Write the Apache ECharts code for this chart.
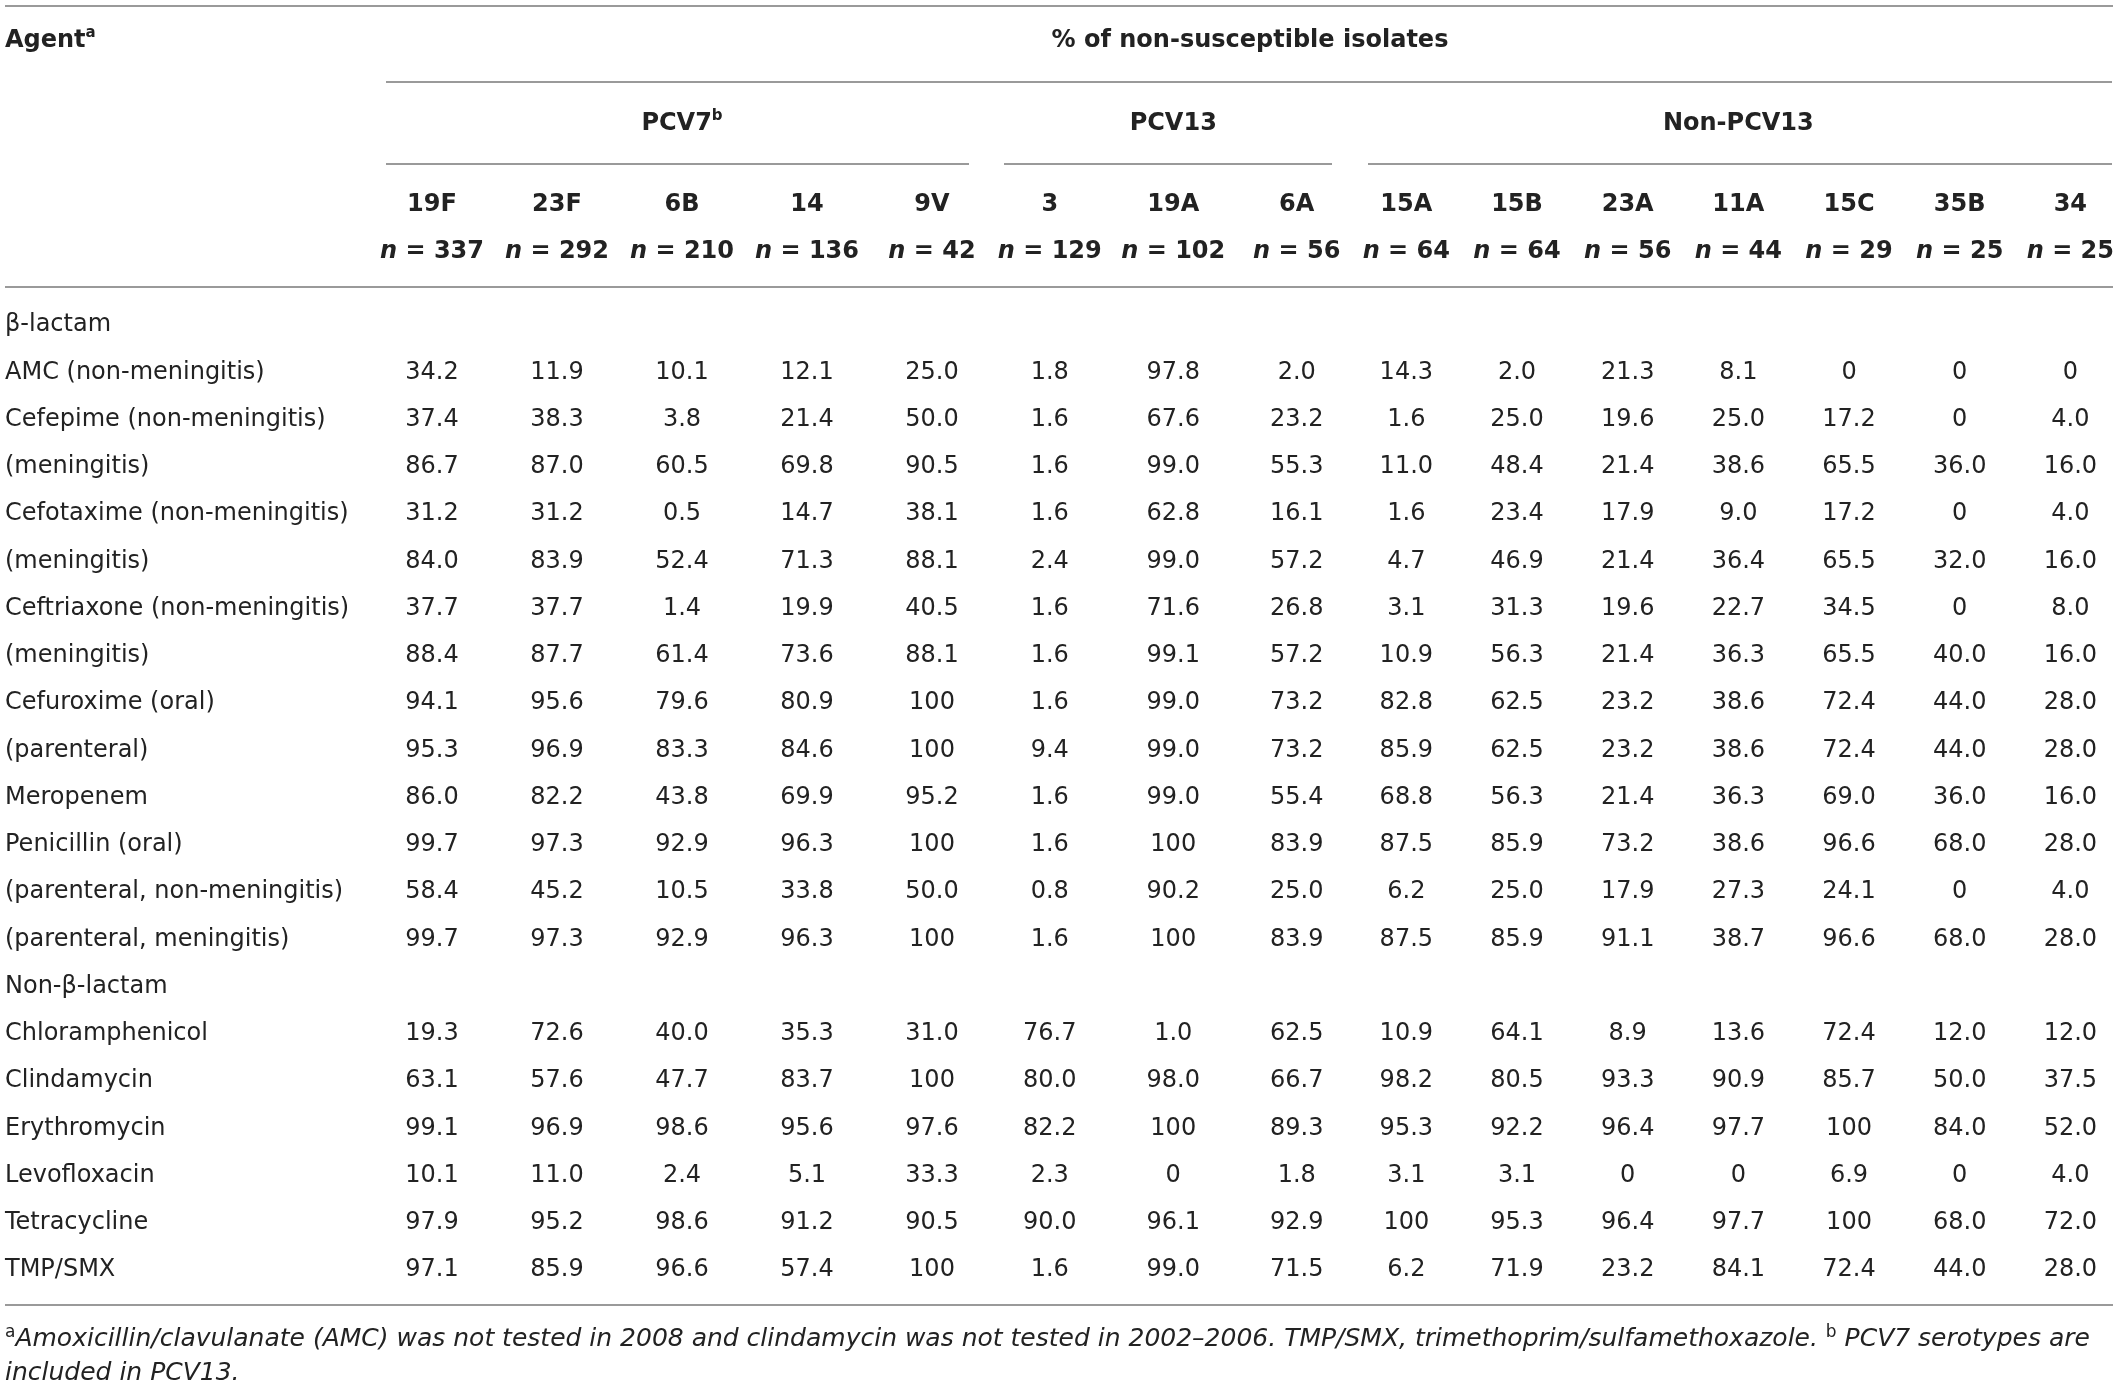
<!DOCTYPE html>
<html><head><meta charset="utf-8">
<script src="https://cdn.jsdelivr.net/npm/echarts@6/dist/echarts.min.js"></script>
<style>html,body{margin:0;padding:0;background:#fff}#c{width:2118px;height:1391px}</style>
</head><body><div id="c"></div>
<script>
// ---------- data ----------
const groups = ['PCV7', 'PCV13', 'Non-PCV13'];
const serotypesPCV7 = ['19F', '23F', '6B', '14', '9V'];
const serotypesPCV13 = ['3', '19A', '6A'];
const serotypesNon = ['15A', '15B', '23A', '11A', '15C', '35B', '34'];
const countsPCV7 = [337, 292, 210, 136, 42];
const countsPCV13 = [129, 102, 56];
const countsNon = [64, 64, 56, 44, 29, 25, 25];
const rowLabels = ['β-lactam', 'AMC (non-meningitis)', 'Cefepime (non-meningitis)', '(meningitis)',
  'Cefotaxime (non-meningitis)', '(meningitis)', 'Ceftriaxone (non-meningitis)', '(meningitis)',
  'Cefuroxime (oral)', '(parenteral)', 'Meropenem', 'Penicillin (oral)', '(parenteral, non-meningitis)',
  '(parenteral, meningitis)', 'Non-β-lactam', 'Chloramphenicol', 'Clindamycin', 'Erythromycin',
  'Levofloxacin', 'Tetracycline', 'TMP/SMX'];
const sectionRows = [0, 14];

const s19F = [34.2, 37.4, 86.7, 31.2, 84.0, 37.7, 88.4, 94.1, 95.3, 86.0, 99.7, 58.4, 99.7, 19.3, 63.1, 99.1, 10.1, 97.9, 97.1];
const s23F = [11.9, 38.3, 87.0, 31.2, 83.9, 37.7, 87.7, 95.6, 96.9, 82.2, 97.3, 45.2, 97.3, 72.6, 57.6, 96.9, 11.0, 95.2, 85.9];
const s6B  = [10.1, 3.8, 60.5, 0.5, 52.4, 1.4, 61.4, 79.6, 83.3, 43.8, 92.9, 10.5, 92.9, 40.0, 47.7, 98.6, 2.4, 98.6, 96.6];
const s14  = [12.1, 21.4, 69.8, 14.7, 71.3, 19.9, 73.6, 80.9, 84.6, 69.9, 96.3, 33.8, 96.3, 35.3, 83.7, 95.6, 5.1, 91.2, 57.4];
const s9V  = [25.0, 50.0, 90.5, 38.1, 88.1, 40.5, 88.1, 100, 100, 95.2, 100, 50.0, 100, 31.0, 100, 97.6, 33.3, 90.5, 100];
const s3   = [1.8, 1.6, 1.6, 1.6, 2.4, 1.6, 1.6, 1.6, 9.4, 1.6, 1.6, 0.8, 1.6, 76.7, 80.0, 82.2, 2.3, 90.0, 1.6];
const s19A = [97.8, 67.6, 99.0, 62.8, 99.0, 71.6, 99.1, 99.0, 99.0, 99.0, 100, 90.2, 100, 1.0, 98.0, 100, 0, 96.1, 99.0];
const s6A  = [2.0, 23.2, 55.3, 16.1, 57.2, 26.8, 57.2, 73.2, 73.2, 55.4, 83.9, 25.0, 83.9, 62.5, 66.7, 89.3, 1.8, 92.9, 71.5];
const s15A = [14.3, 1.6, 11.0, 1.6, 4.7, 3.1, 10.9, 82.8, 85.9, 68.8, 87.5, 6.2, 87.5, 10.9, 98.2, 95.3, 3.1, 100, 6.2];
const s15B = [2.0, 25.0, 48.4, 23.4, 46.9, 31.3, 56.3, 62.5, 62.5, 56.3, 85.9, 25.0, 85.9, 64.1, 80.5, 92.2, 3.1, 95.3, 71.9];
const s23A = [21.3, 19.6, 21.4, 17.9, 21.4, 19.6, 21.4, 23.2, 23.2, 21.4, 73.2, 17.9, 91.1, 8.9, 93.3, 96.4, 0, 96.4, 23.2];
const s11A = [8.1, 25.0, 38.6, 9.0, 36.4, 22.7, 36.3, 38.6, 38.6, 36.3, 38.6, 27.3, 38.7, 13.6, 90.9, 97.7, 0, 97.7, 84.1];
const s15C = [0, 17.2, 65.5, 17.2, 65.5, 34.5, 65.5, 72.4, 72.4, 69.0, 96.6, 24.1, 96.6, 72.4, 85.7, 100, 6.9, 100, 72.4];
const s35B = [0, 0, 36.0, 0, 32.0, 0, 40.0, 44.0, 44.0, 36.0, 68.0, 0, 68.0, 12.0, 50.0, 84.0, 0, 68.0, 44.0];
const s34  = [0, 4.0, 16.0, 4.0, 16.0, 8.0, 16.0, 28.0, 28.0, 16.0, 28.0, 4.0, 28.0, 12.0, 37.5, 52.0, 4.0, 72.0, 28.0];

const footnote1 = 'Amoxicillin/clavulanate (AMC) was not tested in 2008 and clindamycin was not tested in 2002–2006. TMP/SMX, trimethoprim/sulfamethoxazole. ';
const footnote2 = ' PCV7 serotypes are';
const footnote3 = 'included in PCV13.';

// ---------- build ----------
const serotypes = [serotypesPCV7, serotypesPCV13, serotypesNon];
const counts = [countsPCV7, countsPCV13, countsNon];
const columnValues = [[s19F, s23F, s6B, s14, s9V], [s3, s19A, s6A], [s15A, s15B, s23A, s11A, s15C, s35B, s34]];
const agentRowIdx = rowLabels.map((_, i) => i).filter(i => sectionRows.indexOf(i) < 0);
const fmt = v => (v === 0 || v === 100) ? String(v) : v.toFixed(1);

const TXT = '#222';
const FONT = 'DejaVu Sans';
const FS = 24;
const rowH = 47.25;
const gridTop = 301.4;
const gridH = rowH * rowLabels.length;
const gridBoxes = [
  { left: 369.5, width: 625 },
  { left: 988, width: 370.5 },
  { left: 1351, width: 774.7 }
];

const boldStyle = { fontFamily: FONT, fontWeight: 'bold', fontSize: FS, color: TXT };

const grid = gridBoxes.map(g => ({ left: g.left, width: g.width, top: gridTop, height: gridH, containLabel: false, outerBoundsMode: 'none' }));

const xAxis = groups.map((gname, gi) => ({
  type: 'category', gridIndex: gi, position: 'top', data: serotypes[gi],
  axisLine: { show: false }, axisTick: { show: false }, splitLine: { show: false },
  axisLabel: {
    interval: 0, margin: 26,
    formatter: (val, idx) => '{b|' + val + '}\n{i|n}{b| = ' + counts[gi][idx] + '}',
    rich: {
      b: Object.assign({ lineHeight: 47 }, boldStyle),
      i: Object.assign({ lineHeight: 47, fontStyle: 'italic' }, boldStyle)
    }
  },
  name: gi === 0 ? '{t|' + gname + '}{s|b}' : '{t|' + gname + '}',
  nameLocation: 'middle', nameGap: 163,
  nameTextStyle: {
    rich: {
      t: Object.assign({ lineHeight: 30 }, boldStyle),
      s: { fontFamily: FONT, fontSize: 15, fontWeight: 'bold', color: TXT, verticalAlign: 'top' }
    }
  }
}));

const yAxis = groups.map((g, gi) => ({
  type: 'category', gridIndex: gi, inverse: true, data: rowLabels, show: gi === 0,
  axisLine: { show: false }, axisTick: { show: false }, splitLine: { show: false },
  axisLabel: { interval: 0, align: 'left', margin: gridBoxes[0].left - 5, fontFamily: FONT, fontSize: FS, color: TXT }
}));

const series = [];
columnValues.forEach((cols, gi) => cols.forEach((vals, ci) => {
  series.push({
    type: 'scatter', name: serotypes[gi][ci], xAxisIndex: gi, yAxisIndex: gi,
    symbolSize: 1, itemStyle: { color: 'rgba(0,0,0,0)', opacity: 1 }, silent: true,
    label: { show: true, position: 'inside', formatter: p => fmt(p.value[2]), fontFamily: FONT, fontSize: FS,
             color: TXT, opacity: 1, textBorderWidth: 0, textBorderColor: 'rgba(0,0,0,0)' },
    data: vals.map((v, k) => [ci, agentRowIdx[k], v])
  });
}));

const rule = (x1, y, x2) => ({ type: 'line', silent: true, shape: { x1: x1, y1: y, x2: x2, y2: y }, style: { stroke: '#9a9a9a', lineWidth: 2 } });

const graphic = [
  rule(5, 6, 2113), rule(386, 82, 2112),
  rule(386, 164, 969), rule(1004, 164, 1332), rule(1368, 164, 2112),
  rule(5, 287, 2113), rule(5, 1305, 2113),
  { type: 'text', x: 5, y: 41, silent: true, style: {
      text: '{m|Agent}{s|a}', align: 'left', verticalAlign: 'middle',
      rich: { m: Object.assign({ lineHeight: 30 }, boldStyle, { fill: TXT }), s: { fontFamily: FONT, fontSize: 15, fontWeight: 'bold', fill: TXT, verticalAlign: 'top' } } } },
  { type: 'text', x: 1250, y: 41, silent: true, style: {
      text: '% of non-susceptible isolates', align: 'center', verticalAlign: 'middle',
      fontFamily: FONT, fontWeight: 'bold', fontSize: FS, fill: TXT } },
  { type: 'text', x: 5, y: 1339, silent: true, style: {
      text: '{s|a}{it|' + footnote1 + '}{s|b}{it|' + footnote2 + '}', align: 'left', verticalAlign: 'middle',
      rich: { it: { fontFamily: FONT, fontStyle: 'italic', fontSize: 25, fill: TXT, lineHeight: 30 },
              s: { fontFamily: FONT, fontSize: 17, fill: TXT, verticalAlign: 'top' } } } },
  { type: 'text', x: 5, y: 1373, silent: true, style: {
      text: footnote3, align: 'left', verticalAlign: 'middle',
      fontFamily: FONT, fontStyle: 'italic', fontSize: 25, fill: TXT } }
];

const chart = echarts.init(document.getElementById('c'), null, { renderer: 'canvas' });
chart.setOption({
  animation: false, backgroundColor: '#fff',
  grid: grid, xAxis: xAxis, yAxis: yAxis, series: series, graphic: graphic
});
</script></body></html>
